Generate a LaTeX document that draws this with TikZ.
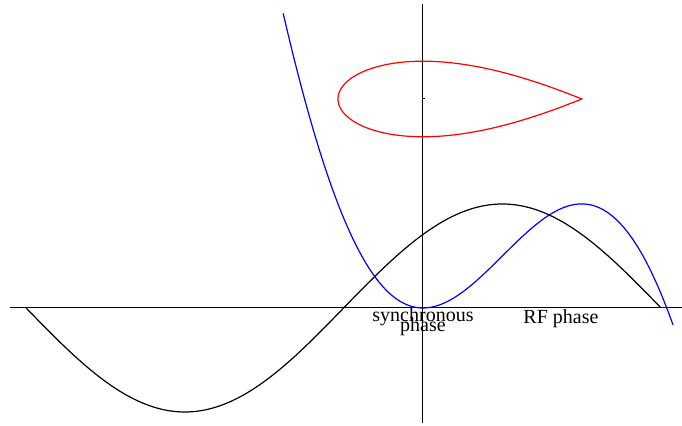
\documentclass[tikz,border=0pt]{standalone}
\usepackage{fontspec}
\setmainfont{Liberation Serif}
\begin{document}
\begin{tikzpicture}[x=0.5pt,y=0.5pt,
  declare function={U(\p)=-cos(\p r)+0.707107-(\p-0.785398)*0.707107;
    xph(\p)=101.06*(\p-0.785398);
    ph(\t)=-0.0558+1.205997*(1-cos(\t));
    hs(\p)=48.5*sqrt(2*max(0,0.303493-U(\p)));},
  axis/.style={line width=0.5pt},
  curve/.style={line width=0.6pt,smooth},
  lbl/.style={font=\fontsize{10}{10}\selectfont,inner sep=0pt,anchor=base}]
\useasboundingbox (-423,-118) rectangle (259,308);
% axes
\draw[axis] (-413,0) -- (259,0);
\draw[axis] (0,-115) -- (0,304);
\draw[axis] (0,209) -- (2,209);
% rf voltage
\draw[curve,black,domain=-pi:pi,samples=120,variable=\p] plot ({xph(\p)},{104*sin(\p r)});
% potential well
\draw[curve,blue,domain=-0.598:3.259,samples=120,variable=\p] plot ({xph(\p)},{343*U(\p)});
% separatrix
\draw[line width=0.6pt,red,variable=\t,samples=90]
  plot[domain=0:180] ({xph(ph(\t))},{209+hs(ph(\t))})
  -- plot[domain=180:0] ({xph(ph(\t))},{209-hs(ph(\t))}) -- cycle;
\node[lbl] (sync) at (0,-14) {synchronous};
\node[lbl] (phase) at (0,-24) {phase};
\node[lbl] (rf) at (138,-16) {RF phase};
\end{tikzpicture}
\end{document}
